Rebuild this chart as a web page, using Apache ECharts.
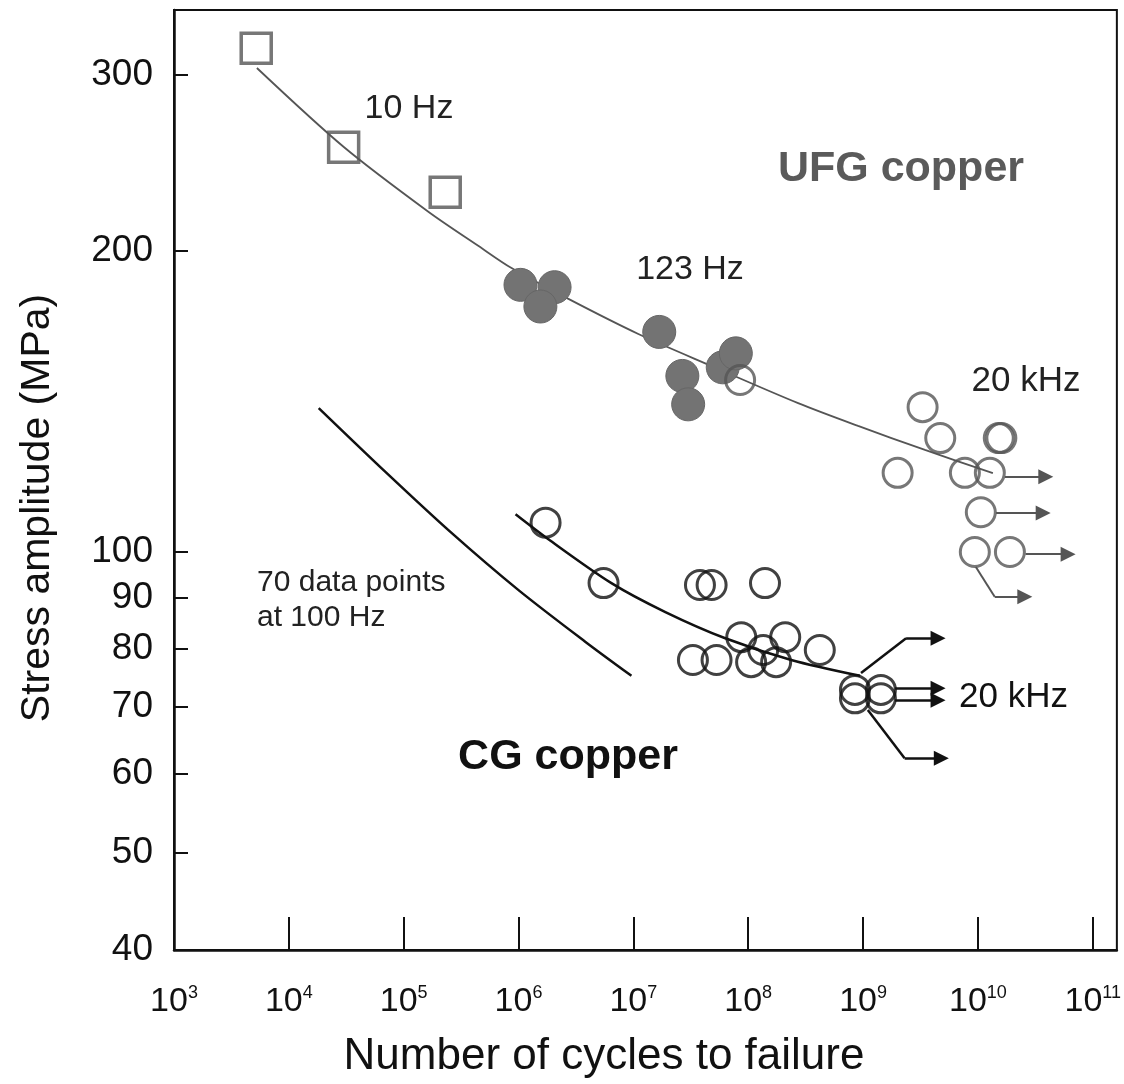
<!DOCTYPE html>
<html>
<head>
<meta charset="utf-8">
<script src="https://cdn.jsdelivr.net/npm/echarts@6/dist/echarts.min.js"></script>
<style>
  html, body { margin: 0; padding: 0; background: #fff; }
  #main { width: 1124px; height: 1084px; }
</style>
</head>
<body>
<div id="main"></div>
<script>
// axis ticks
var xDecades = [3, 4, 5, 6, 7, 8, 9, 10, 11];
var yTicks = [40, 50, 60, 70, 80, 90, 100, 200, 300];

// UFG copper, 10 Hz (squares)
var ufg10N = [5.2e3, 3.0e4, 2.3e5];
var ufg10S = [319, 254, 229];

// UFG copper, 123 Hz (filled circles)
var ufg123N = [1.04e6, 2.06e6, 1.55e6, 1.68e7, 2.67e7, 3.0e7, 6.0e7, 7.8e7];
var ufg123S = [185, 184, 176, 166, 150, 140.5, 153, 158];

// UFG copper, 20 kHz (open grey circles)
var ufg20kN = [8.5e7, 3.3e9, 4.7e9, 2.0e9, 7.7e9, 1.27e10, 1.52e10, 1.6e10, 1.06e10, 9.4e9, 1.9e10];
var ufg20kS = [148.6, 139.6, 130, 120, 120, 120, 130, 130, 109.6, 100, 100];

// CG copper, 20 kHz (open black circles)
var cgN = [1.72e6, 5.5e6, 3.8e7, 4.8e7, 1.4e8, 3.3e7, 5.3e7, 8.7e7, 1.06e8, 1.35e8, 1.75e8, 2.1e8, 4.2e8, 8.5e8, 8.5e8, 1.43e9, 1.43e9];
var cgS = [107, 93.1, 92.7, 92.7, 93.1, 78, 78, 82.2, 77.6, 79.8, 77.6, 82.2, 79.8, 72.8, 71.4, 72.8, 71.4];

// fitted curves
var ufgFitN = [5.27e3, 3.01e4, 1.65e5, 4.49e5, 8.69e5, 2.72e6, 1.105e7, 4.77e7, 2.72e8, 9.05e8, 3.46e9, 1.35e10];
var ufgFitS = [304.8, 254.1, 218.8, 202.3, 192.3, 179.1, 165.2, 153.5, 140.9, 133.7, 126.5, 119.9];
var cgFitN = [9.42e5, 1.82e6, 6.44e6, 1.9e7, 6.31e7, 2.37e8, 9.42e8];
var cgFitS = [109.1, 103.0, 93.1, 87.1, 82.0, 78.0, 75.2];
var cg100N = [1.82e4, 6.97e4, 2.61e5, 1.0e6, 3.83e6, 9.62e6];
var cg100S = [139.3, 120.2, 104.5, 91.6, 81.3, 75.2];

// run-out arrows (N, S) per path
var ufgArrows = [
  [[1.72e10, 118.9], [3.9e10, 118.9]],
  [[1.44e10, 109.4], [3.7e10, 109.4]],
  [[2.6e10, 99.5], [6.1e10, 99.5]],
  [[9.6e9, 96.6], [1.4e10, 90.2], [2.56e10, 90.2]]
];
var cgArrows = [
  [[9.6e8, 75.7], [2.37e9, 82], [4.5e9, 82]],
  [[1.9e9, 73.1], [4.5e9, 73.1]],
  [[1.9e9, 71.1], [4.5e9, 71.1]],
  [[1.1e9, 69.5], [2.3e9, 62.2], [4.8e9, 62.2]]
];

function lg(q) { return [Math.log10(q[0]), Math.log10(q[1])]; }
function pts(ns, ss) {
  return ns.map(function (n, i) { return lg([n, ss[i]]); });
}
// all segments except the last of each path
function bodies(paths) {
  var out = [];
  paths.forEach(function (p) {
    for (var i = 0; i < p.length - 2; i++) out.push({ coords: [lg(p[i]), lg(p[i + 1])] });
  });
  return out;
}
// last segment of each path (carries the arrow head)
function heads(paths) {
  return paths.map(function (p) {
    return { coords: [lg(p[p.length - 2]), lg(p[p.length - 1])] };
  });
}

var chart = echarts.init(document.getElementById('main'));
var sans = '"Liberation Sans", Arial, sans-serif';

function arrowSeries(paths, color, width) {
  return [
    {
      type: 'lines', coordinateSystem: 'cartesian2d', z: 3,
      symbol: ['none', 'none'],
      data: bodies(paths),
      lineStyle: { color: color, width: width, opacity: 1, curveness: 0 }
    },
    {
      type: 'lines', coordinateSystem: 'cartesian2d', z: 3,
      symbol: ['none', 'triangle'], symbolSize: [13, 15],
      data: heads(paths),
      itemStyle: { color: color },
      lineStyle: { color: color, width: width, opacity: 1, curveness: 0 }
    }
  ];
}

var option = {
  animation: false,
  backgroundColor: '#fff',
  grid: {
    left: 174, top: 10, right: 4, bottom: 134,
    show: true, borderColor: '#111', borderWidth: 2
  },
  xAxis: {
    type: 'value',
    min: 3, max: 11.21,
    axisLine: { lineStyle: { color: '#111', width: 2.5 } },
    axisTick: { inside: true, length: 33, customValues: xDecades, lineStyle: { color: '#111', width: 2 } },
    splitLine: { show: false },
    axisLabel: {
      customValues: xDecades,
      margin: 34,
      formatter: function (v) { return '{b|10}{s|' + Math.round(v) + '}'; },
      rich: {
        b: { fontFamily: sans, fontSize: 34, color: '#111', lineHeight: 36 },
        s: { fontFamily: sans, fontSize: 18, color: '#111', lineHeight: 18, verticalAlign: 'top' }
      }
    }
  },
  yAxis: {
    type: 'value',
    min: Math.log10(40), max: 2.542,
    axisLine: { lineStyle: { color: '#111', width: 2.5 } },
    axisTick: { inside: true, length: 14, customValues: yTicks.map(Math.log10), lineStyle: { color: '#111', width: 2 } },
    splitLine: { show: false },
    axisLabel: {
      customValues: yTicks.map(Math.log10),
      margin: 21,
      fontFamily: sans, fontSize: 37, color: '#111',
      formatter: function (v) { return String(Math.round(Math.pow(10, v))); }
    }
  },
  graphic: [
    { type: 'text', style: { text: 'Number of cycles to failure', x: 604, y: 1057, textAlign: 'center', textVerticalAlign: 'middle', font: '44px ' + sans, fill: '#111' } },
    { type: 'text', rotation: Math.PI / 2, x: 38, y: 508, style: { text: 'Stress amplitude (MPa)', x: 0, y: 0, textAlign: 'center', textVerticalAlign: 'middle', font: '41px ' + sans, fill: '#111' } },
    { type: 'text', style: { text: '10 Hz', x: 409, y: 109, textAlign: 'center', textVerticalAlign: 'middle', font: '34px ' + sans, fill: '#222' } },
    { type: 'text', style: { text: 'UFG copper', x: 901, y: 169, textAlign: 'center', textVerticalAlign: 'middle', font: 'bold 43px ' + sans, fill: '#5a5a5a' } },
    { type: 'text', style: { text: '123 Hz', x: 690, y: 270, textAlign: 'center', textVerticalAlign: 'middle', font: '34px ' + sans, fill: '#222' } },
    { type: 'text', style: { text: '20 kHz', x: 1026, y: 381, textAlign: 'center', textVerticalAlign: 'middle', font: '35px ' + sans, fill: '#222' } },
    { type: 'text', style: { text: '70 data points\nat 100 Hz', x: 257, y: 600, textAlign: 'left', textVerticalAlign: 'middle', font: '30px ' + sans, fill: '#222', lineHeight: 35 } },
    { type: 'text', style: { text: 'CG copper', x: 568, y: 757, textAlign: 'center', textVerticalAlign: 'middle', font: 'bold 43px ' + sans, fill: '#111' } },
    { type: 'text', style: { text: '20 kHz', x: 959, y: 697, textAlign: 'left', textVerticalAlign: 'middle', font: '35px ' + sans, fill: '#111' } }
  ],
  series: [
    {
      name: 'UFG fit', type: 'line', smooth: 0.3, symbol: 'none', z: 2,
      data: pts(ufgFitN, ufgFitS),
      lineStyle: { color: '#555', width: 1.8 }
    },
    {
      name: 'CG fit', type: 'line', smooth: 0.3, symbol: 'none', z: 2,
      data: pts(cgFitN, cgFitS),
      lineStyle: { color: '#111', width: 2.5 }
    },
    {
      name: 'CG 100 Hz', type: 'line', smooth: 0.3, symbol: 'none', z: 2,
      data: pts(cg100N, cg100S),
      lineStyle: { color: '#111', width: 2.5 }
    },
    {
      name: 'UFG 10 Hz', type: 'scatter', symbol: 'rect', symbolSize: 30, z: 3,
      data: pts(ufg10N, ufg10S),
      itemStyle: { color: 'rgba(0,0,0,0)', borderColor: '#555', borderWidth: 3.5 }
    },
    {
      name: 'UFG 123 Hz', type: 'scatter', symbol: 'circle', symbolSize: 33, z: 3,
      data: pts(ufg123N, ufg123S),
      itemStyle: { color: '#737373', borderColor: '#666', borderWidth: 1, opacity: 1 }
    },
    {
      name: 'UFG 20 kHz', type: 'scatter', symbol: 'circle', symbolSize: 29, z: 4,
      data: pts(ufg20kN, ufg20kS),
      itemStyle: { color: 'rgba(0,0,0,0)', borderColor: '#555', borderWidth: 3 }
    },
    {
      name: 'CG 20 kHz', type: 'scatter', symbol: 'circle', symbolSize: 29, z: 4,
      data: pts(cgN, cgS),
      itemStyle: { color: 'rgba(0,0,0,0)', borderColor: '#111', borderWidth: 3 }
    }
  ].concat(arrowSeries(ufgArrows, '#555', 2), arrowSeries(cgArrows, '#111', 2.5))
};
chart.setOption(option);
</script>
</body>
</html>
